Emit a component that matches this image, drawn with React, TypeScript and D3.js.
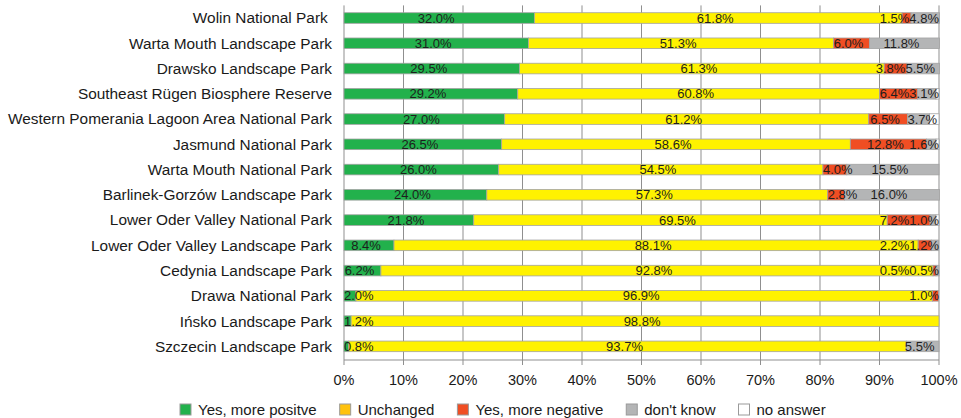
import React from 'react';
import * as d3 from 'd3';

const categories = [
  'Wolin National Park ',
  'Warta Mouth Landscape Park',
  'Drawsko Landscape Park',
  'Southeast Rügen Biosphere Reserve',
  'Western Pomerania Lagoon Area National Park',
  'Jasmund National Park',
  'Warta Mouth National Park',
  'Barlinek-Gorzów Landscape Park',
  'Lower Oder Valley National Park',
  'Lower Oder Valley Landscape Park',
  'Cedynia Landscape Park',
  'Drawa National Park',
  'Ińsko Landscape Park',
  'Szczecin Landscape Park',
];

const seriesNames = ['Yes, more positve', 'Unchanged', 'Yes, more negative', "don't know", 'no answer'];

const positive = [32.0, 31.0, 29.5, 29.2, 27.0, 26.5, 26.0, 24.0, 21.8, 8.4, 6.2, 2.0, 1.2, 0.8];
const unchanged = [61.8, 51.3, 61.3, 60.8, 61.2, 58.6, 54.5, 57.3, 69.5, 88.1, 92.8, 96.9, 98.8, 93.7];
const negative = [1.5, 6.0, 3.8, 6.4, 6.5, 12.8, 4.0, 2.8, 7.2, 2.2, 0.5, 1.0, 0, 0];
const dontKnow = [4.8, 11.8, 5.5, 3.1, 3.7, 1.6, 15.5, 16.0, 1.0, 1.2, 0.5, 0, 0, 5.5];
const noAnswer = [0, 0, 0, 0.5, 1.6, 0.5, 0, 0, 0.5, 0, 0, 0, 0, 0];

const xTickValues = [0, 10, 20, 30, 40, 50, 60, 70, 80, 90, 100];

const keys = ['positive', 'unchanged', 'negative', 'dontKnow', 'noAnswer'];
const barColors = ['#22B14C', '#FFF200', '#F04E23', '#B4B5B6', '#FFFFFF'];
const legendColors = ['#22B14C', '#FFC20E', '#F04E23', '#B4B5B6', '#FFFFFF'];

const FONT = '"Liberation Sans", Arial, Helvetica, sans-serif';
const W = 961;
const H = 418;

let measureCtx: CanvasRenderingContext2D | null = null;
function textWidth(s: string, size: number) {
  if (!measureCtx) {
    const c = document.createElement('canvas');
    measureCtx = c.getContext('2d');
  }
  if (!measureCtx) return s.length * size * 0.55;
  measureCtx.font = `${size}px ${FONT}`;
  return measureCtx.measureText(s).width;
}

export default function App() {
  const x = d3.scaleLinear().domain([0, 100]).range([344, 939]);
  const y = d3
    .scaleBand<string>()
    .domain(categories)
    .range([5.4, 359])
    .paddingInner(0.58)
    .paddingOuter(0.29);

  const rows = categories.map((c, i) => ({
    category: c,
    positive: positive[i],
    unchanged: unchanged[i],
    negative: negative[i],
    dontKnow: dontKnow[i],
    noAnswer: noAnswer[i],
  }));
  const stacked = d3.stack<any>().keys(keys)(rows);

  // data labels with simple collision handling
  const labelSize = 13;
  const labels: { key: string; text: string; left: number; yc: number }[] = [];
  categories.forEach((cat, i) => {
    const row: { text: string; left: number; w: number }[] = [];
    for (let s = 0; s < 4; s++) {
      const d = stacked[s][i];
      const v = d[1] - d[0];
      if (v <= 0) continue;
      const text = v.toFixed(1) + '%';
      const w = textWidth(text, labelSize);
      const x0 = x(d[0]);
      const x1 = x(d[1]);
      const left = x1 - x0 >= w ? (x0 + x1) / 2 - 3 - w / 2 : x0;
      row.push({ text, left, w });
    }
    let bound = x(100);
    for (let k = row.length - 1; k >= 0; k--) {
      if (row[k].left + row[k].w > bound) row[k].left = bound - row[k].w;
      bound = row[k].left;
    }
    const yc = (y(cat) as number) + y.bandwidth() / 2;
    row.forEach((r, k) => labels.push({ key: `${i}-${k}`, text: r.text, left: r.left, yc }));
  });

  // legend layout
  const legendSize = 15;
  const legendItems: { name: string; color: string; x: number }[] = [];
  let lx = 180;
  seriesNames.forEach((n, i) => {
    legendItems.push({ name: n, color: legendColors[i], x: lx });
    lx += 18 + textWidth(n, legendSize) + 23;
  });

  const plotTop = 5.4;
  const plotBottom = 360;

  return (
    <svg
      width={W}
      height={H}
      style={{ position: 'absolute', left: 0, top: 0, background: '#fff' }}
      fontFamily={FONT}
    >
      {/* gridlines */}
      {xTickValues.map((t) => (
        <line
          key={'g' + t}
          x1={x(t)}
          x2={x(t)}
          y1={plotTop}
          y2={plotBottom + 5}
          stroke="#8f8f8f"
          strokeWidth={1}
        />
      ))}
      <line x1={x(0)} x2={x(100)} y1={plotBottom} y2={plotBottom} stroke="#8f8f8f" strokeWidth={1} />

      {/* bars */}
      {stacked.map((series, s) =>
        series.map((d, i) => {
          const v = d[1] - d[0];
          if (v <= 0) return null;
          return (
            <rect
              key={`b${s}-${i}`}
              x={x(d[0])}
              y={y(categories[i])}
              width={x(d[1]) - x(d[0])}
              height={y.bandwidth()}
              fill={barColors[s]}
              stroke="#a3a3a3"
              strokeWidth={0.8}
            />
          );
        })
      )}

      {/* data labels */}
      {labels.map((l) => (
        <text key={l.key} x={l.left} y={l.yc} dy="0.35em" fontSize={labelSize} fill="#1e1e1e">
          {l.text}
        </text>
      ))}

      {/* category labels */}
      {categories.map((c) => (
        <text
          key={'c' + c}
          x={332}
          y={(y(c) as number) + y.bandwidth() / 2}
          dy="0.35em"
          textAnchor="end"
          fontSize={15.4}
          fill="#1a1a1a"
          style={{ whiteSpace: 'pre' }}
        >
          {c}
        </text>
      ))}

      {/* x tick labels */}
      {xTickValues.map((t) => (
        <text key={'t' + t} x={x(t)} y={385} textAnchor="middle" fontSize={14.5} fill="#1a1a1a">
          {t + '%'}
        </text>
      ))}

      {/* legend */}
      {legendItems.map((it) => (
        <g key={'l' + it.name}>
          <rect x={it.x} y={404} width={11} height={11} fill={it.color} stroke="#9a9a9a" strokeWidth={1} />
          <text x={it.x + 18} y={410} dy="0.35em" fontSize={legendSize} fill="#1a1a1a">
            {it.name}
          </text>
        </g>
      ))}
    </svg>
  );
}
